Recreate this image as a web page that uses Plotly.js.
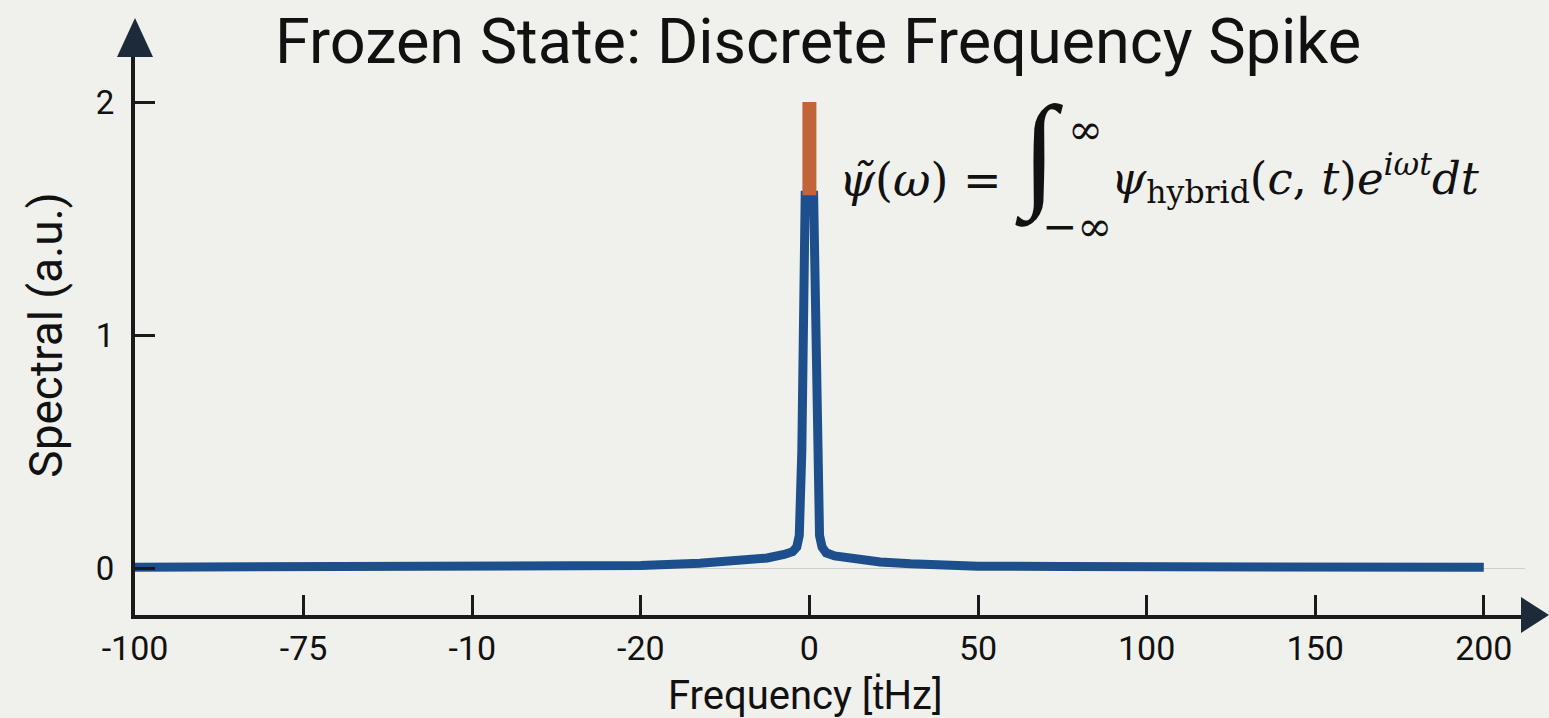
<!DOCTYPE html>
<html>
<head>
<meta charset="utf-8">
<script src="https://cdn.plot.ly/plotly-3.0.1.min.js"></script>
<style>html,body{margin:0;padding:0;background:#f0f0ec;}#chart{width:1549px;height:718px;}</style>
</head>
<body>
<div id="chart"></div>
<script>
// ---- data ----
const tickSlots  = [0, 1, 2, 3, 4, 5, 6, 7, 8];
const tickLabels = ['-100', '-75', '-10', '-20', '0', '50', '100', '150', '200'];
const yTicks     = [0, 1, 2];

// spectrum (x in tick-slot units, y in a.u.)
const specX = [0, 0.5, 1, 1.5, 2, 2.5, 3, 3.35, 3.6, 3.75, 3.85, 3.9, 3.925, 3.94, 3.955, 3.975,
               4.025, 4.045, 4.06, 4.075, 4.1, 4.15, 4.25, 4.42, 4.6, 4.83, 5, 5.5, 6, 6.5, 7, 7.5, 8];
const specY = [0.003, 0.003, 0.004, 0.004, 0.005, 0.007, 0.011, 0.02, 0.032, 0.043, 0.058, 0.07, 0.09, 0.14, 0.5, 1.6,
               1.6, 0.5, 0.14, 0.09, 0.065, 0.052, 0.04, 0.026, 0.018, 0.01, 0.008, 0.006, 0.005, 0.004, 0.003, 0.003, 0.003];

// discrete spike tip
const tipX = [4, 4];
const tipY = [1.6, 2.0];

// ---- layout helpers ----
const W = 1549, H = 718;
const L = 135, R = 1525, T = 55, B = 615;
const px = p => (p - L) / (R - L);
const py = p => (B - p) / (B - T);
const xRange = [0, (R - L) / 168.6];
const yRange = [-(B - 568) / 233, (568 - T) / 233];

const blue = '#1c4f8c', orange = '#c2643a', ink = '#1a1a1a';
const bg = '#f0f0ec';

const traces = [
  {x: specX, y: specY, type: 'scatter', mode: 'lines',
   line: {color: blue, width: 9}, hoverinfo: 'skip', showlegend: false},
  {x: tipX, y: tipY, type: 'scatter', mode: 'lines',
   line: {color: orange, width: 14}, hoverinfo: 'skip', showlegend: false}
];

const serif = 'DejaVu Serif, Liberation Serif, serif';
const ann = (text, x, y, size, xa, fam) => ({
  text: text, xref: 'paper', yref: 'paper', x: px(x), y: py(y),
  xanchor: xa || 'left', yanchor: 'middle', showarrow: false, borderpad: 0,
  font: {family: fam || serif, size: size, color: '#111'}
});

const layout = {
  width: W, height: H,
  paper_bgcolor: bg, plot_bgcolor: bg,
  margin: {l: L, r: W - R, t: T, b: H - B, pad: 0},
  title: {text: 'Frozen State: Discrete Frequency Spike',
          xref: 'container', x: 818 / W, xanchor: 'center',
          yref: 'container', y: 1 - 41 / H, yanchor: 'middle',
          font: {family: 'Roboto, sans-serif', size: 63, color: '#111'}},
  xaxis: {range: xRange, tickmode: 'array', tickvals: tickSlots, ticktext: tickLabels,
          showline: true, linewidth: 4, linecolor: ink,
          ticks: 'inside', ticklen: 20, tickwidth: 3, tickcolor: ink,
          showgrid: false, zeroline: false, fixedrange: true,
          tickfont: {family: 'Roboto, sans-serif', size: 34, color: '#111'}},
  yaxis: {range: yRange, tickmode: 'array', tickvals: yTicks, ticktext: yTicks.map(String),
          showline: true, linewidth: 4, linecolor: ink,
          ticks: 'inside', ticklen: 20, tickwidth: 3, tickcolor: ink,
          showgrid: false, zeroline: true, zerolinecolor: '#cfcfcf', zerolinewidth: 1,
          fixedrange: true, ticklabelstandoff: 10,
          tickfont: {family: 'Roboto, sans-serif', size: 33, color: '#111'},
          title: {text: 'Spectral (a.u.)', standoff: 20,
                  font: {family: 'Roboto, sans-serif', size: 46, color: '#111'}}},
  shapes: [
    {type: 'path', xref: 'paper', yref: 'paper', layer: 'above',
     path: `M ${px(135)},${py(18)} L ${px(117)},${py(57)} L ${px(153)},${py(57)} Z`,
     fillcolor: '#1c2a3a', line: {width: 0}},
    {type: 'path', xref: 'paper', yref: 'paper', layer: 'above',
     path: `M ${px(1549)},${py(615)} L ${px(1521)},${py(597)} L ${px(1521)},${py(633)} Z`,
     fillcolor: '#1c2a3a', line: {width: 0}}
  ],
  annotations: [
    // x-axis title (placed to match the reference)
    ann('Frequency [ṫHz]', 805, 695, 40, 'center', 'Roboto, sans-serif'),
    // formula
    ann('<i>ψ̃</i>(<i>ω</i>) =', 838, 180, 46),
    ann('∫', 1039, 154, 126, 'center', 'Liberation Serif, serif'),
    ann('∞', 1085, 129, 42, 'center'),
    ann('−∞', 1077, 226, 42, 'center'),
    ann('<i>ψ</i><sub>hybrid</sub>(<i>c</i>, <i>t</i>)<i>e</i><sup><i>iωt</i></sup><i>dt</i>', 1110, 178, 45)
  ]
};

Plotly.newPlot('chart', traces, layout, {displayModeBar: false, staticPlot: true});
</script>
</body>
</html>
